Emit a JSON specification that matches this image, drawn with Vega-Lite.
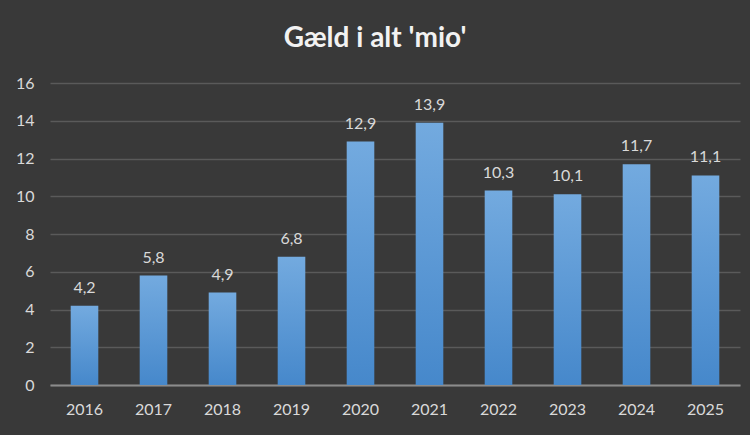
{
  "$schema": "https://vega.github.io/schema/vega-lite/v6.json",
  "width": 690,
  "height": 302,
  "autosize": "none",
  "padding": {"left": 50, "top": 83, "right": 10, "bottom": 50},
  "background": "#393939",
  "title": {
    "text": "Gæld i alt 'mio'",
    "font": "Lato",
    "fontSize": 28,
    "fontWeight": "bold",
    "color": "#f2f2f2",
    "anchor": "middle",
    "dx": -20,
    "offset": 22
  },
  "config": {
    "view": {"stroke": null},
    "locale": {"number": {"decimal": ",", "thousands": ".", "grouping": [3], "currency": ["", " kr"]}},
    "font": "Lato"
  },
  "data": {
    "values": [
      {"year": "2016", "value": 4.2},
      {"year": "2017", "value": 5.8},
      {"year": "2018", "value": 4.9},
      {"year": "2019", "value": 6.8},
      {"year": "2020", "value": 12.9},
      {"year": "2021", "value": 13.9},
      {"year": "2022", "value": 10.3},
      {"year": "2023", "value": 10.1},
      {"year": "2024", "value": 11.7},
      {"year": "2025", "value": 11.1}
    ]
  },
  "encoding": {
    "x": {
      "field": "year", "type": "nominal", "title": null,
      "scale": {"paddingInner": 0.6, "paddingOuter": 0.3},
      "axis": {"labelAngle": 0, "labelColor": "#d9d9d9", "labelFontSize": 16, "labelPadding": 16, "ticks": false, "domainColor": "#8c8c8c", "domainWidth": 2, "grid": false}
    },
    "y": {
      "field": "value", "type": "quantitative", "title": null,
      "scale": {"domain": [0, 16]},
      "axis": {"values": [0, 2, 4, 6, 8, 10, 12, 14, 16], "labelColor": "#d9d9d9", "labelFontSize": 16, "labelPadding": 16, "ticks": false, "domain": false, "gridColor": "#5a5a5a", "gridWidth": 1.5}
    }
  },
  "layer": [
    {
      "mark": {
        "type": "bar",
        "color": {
          "gradient": "linear", "x1": 0, "y1": 0, "x2": 0, "y2": 1,
          "stops": [{"offset": 0, "color": "#73aadf"}, {"offset": 1, "color": "#4688cb"}]
        }
      }
    },
    {
      "mark": {"type": "text", "dy": -18, "fontSize": 16, "color": "#d9d9d9"},
      "encoding": {"text": {"field": "value", "type": "quantitative", "format": ".1f"}}
    }
  ]
}
